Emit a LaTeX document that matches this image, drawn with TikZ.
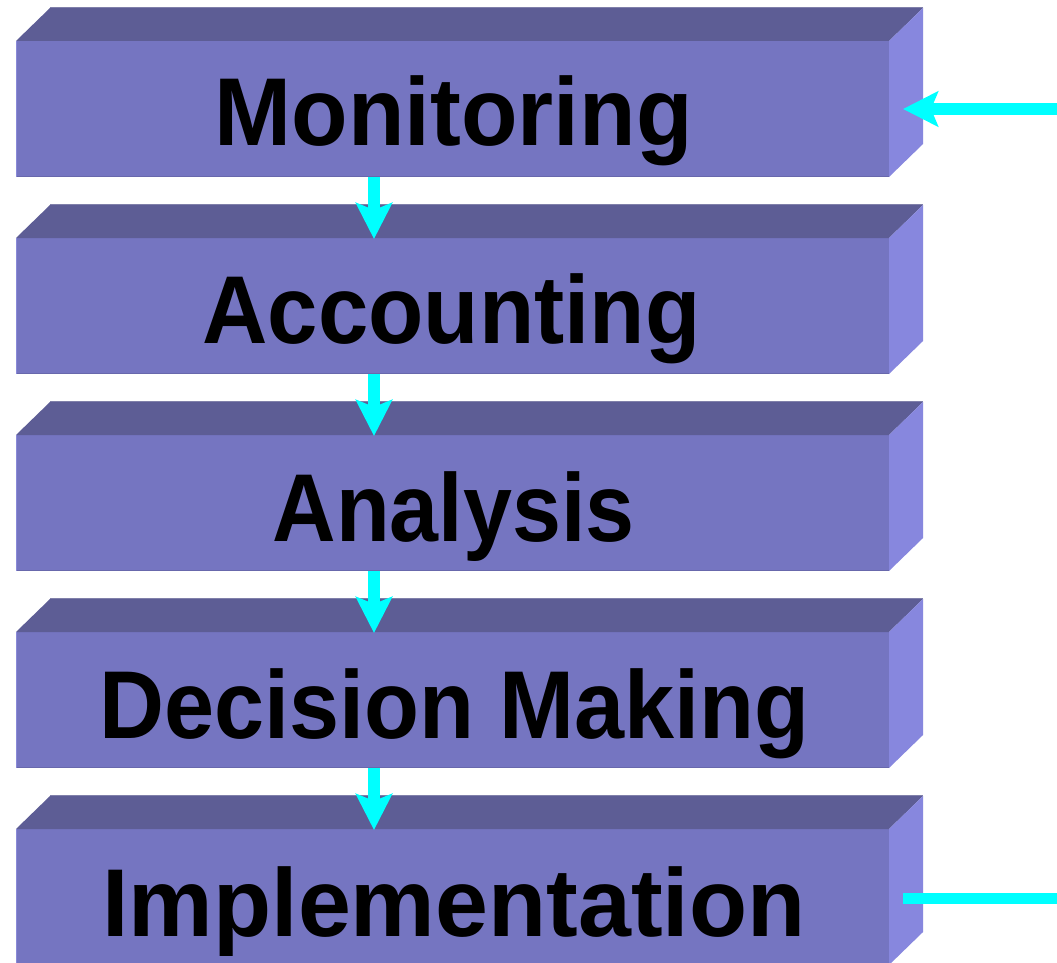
\documentclass[tikz,border=0pt]{standalone}
\usepackage{fontspec}
\usepackage{graphicx}
\usetikzlibrary{arrows.meta}

\newfontfamily\labelfont{Liberation Sans}

\definecolor{frontface}{RGB}{117,117,193}
\definecolor{topface}{RGB}{93,93,149}
\definecolor{sideface}{RGB}{135,135,222}
\definecolor{frontedge}{RGB}{138,138,216}
\definecolor{bottomedge}{RGB}{104,104,172}
\definecolor{topedge}{RGB}{128,128,170}
\definecolor{flowcyan}{RGB}{0,255,255}

% set a label and stretch it horizontally to a given width (in pt)
\newsavebox\lblbox
\newcommand\widelabel[2]{%
  \sbox\lblbox{#2}%
  \pgfmathsetmacro\lblratio{#1/\the\wd\lblbox}%
  \scalebox{\lblratio}[1]{\usebox\lblbox}}
\newcommand\stagefont{\labelfont\fontsize{96.4pt}{100pt}\selectfont\bfseries}

\tikzset{
  stagebox/.style={rectangle, minimum width=873pt, minimum height=136pt,
    inner sep=0pt, outer sep=0pt, fill=frontface},
  stagetext/.style={anchor=base, inner sep=0pt, outer sep=0pt, text=black},
  flow/.style={draw=flowcyan, line width=12pt,
    -{Stealth[length=36pt, width=36pt, inset=7pt]}},
  feed/.style={draw=flowcyan, line width=11pt},
}

% a 3D block: front node plus top and right faces
\newcommand\block[2]{%
  \node[stagebox] (#1) at (452.5,#2) {};
  \fill[topface] (#1.north west) -- ++(34,-33) -- ([shift={(34,-33)}]#1.north east)
    -- (#1.north east) -- cycle;
  \draw[topedge, line width=1.2pt] ([shift={(34,-33.5)}]#1.north west)
    -- ([shift={(34,-33.5)}]#1.north east);
  \fill[sideface] (#1.north east) -- ++(34,-33) -- ++(0,136) -- (#1.south east) -- cycle;
  \draw[bottomedge, line width=1.5pt] ([yshift=0.75pt]#1.south west) -- ([yshift=0.75pt]#1.south east);
  \draw[frontedge, line width=1.2pt] ([xshift=0.6pt]#1.north west) -- ([xshift=0.6pt]#1.south west);
}

\begin{document}
\begin{tikzpicture}[x=1pt, y=-1pt]
  \useasboundingbox[fill=white] (0,0) rectangle (1057,963);

  \block{b1}{109}
  \block{b2}{306}
  \block{b3}{503}
  \block{b4}{700}
  \block{b5}{897}

  \node[stagetext] (t1) at (453.5,146) {\widelabel{478}{\stagefont Monitoring}};
  \node[stagetext] (t2) at (451.5,343) {\widelabel{498}{\stagefont Accounting}};
  \node[stagetext] (t3) at (453.5,541) {\widelabel{362}{\stagefont Analysis}};
  \node[stagetext] (t4) at (454.5,738) {\widelabel{710}{\stagefont Decision Making}};
  \node[stagetext] (t5) at (454,936) {\widelabel{703}{\stagefont Implementation}};

  % downward flow between stages
  \draw[flow] ([xshift=-78.5pt]b1.south) -- ([xshift=-78.5pt,yshift=-1pt]b2.north);
  \draw[flow] ([xshift=-78.5pt]b2.south) -- ([xshift=-78.5pt,yshift=-1pt]b3.north);
  \draw[flow] ([xshift=-78.5pt]b3.south) -- ([xshift=-78.5pt,yshift=-1pt]b4.north);
  \draw[flow] ([xshift=-78.5pt]b4.south) -- ([xshift=-78.5pt,yshift=-1pt]b5.north);

  % feedback input and output on the right
  \coordinate (fin) at (1060,109);
  \coordinate (fout) at (1060,898.5);
  \draw[flow, -{Stealth[length=35pt, width=35pt, inset=7pt]}] (fin) -- ([xshift=14pt]b1.east);
  \draw[feed] ([xshift=14pt,yshift=-1.5pt]b5.east) -- (fout);
\end{tikzpicture}
\end{document}
